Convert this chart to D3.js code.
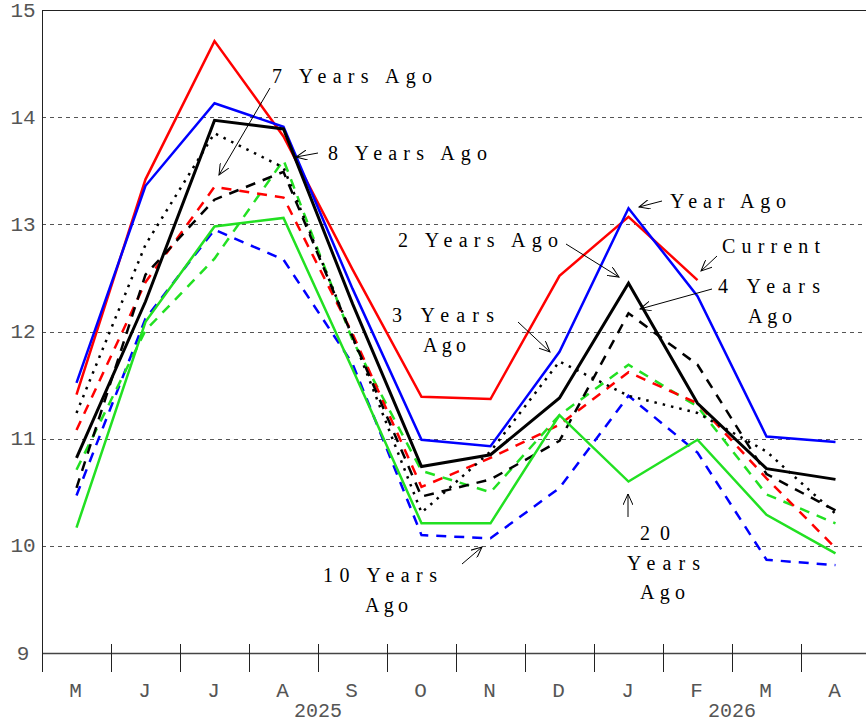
<!DOCTYPE html>
<html>
  <head>
    <script src="https://d3js.org/d3.v7.min.js"></script>
    <style>
      html, body { margin: 0; padding: 0; background: #fff; }
      #chart svg { display: block; }
      .tick-label { font-family: 'Liberation Mono', 'DejaVu Sans Mono', monospace; fill: #555; }
      .note { font-family: 'Liberation Serif', 'Times New Roman', serif; font-size: 20px; fill: #000; }
    </style>
  </head>
  <body>
    <div id="chart"></div>
    <script>
      // months May 2025 .. Apr 2026
      var months = ["M", "J", "J", "A", "S", "O", "N", "D", "J", "F", "M", "A"];
      var yTicks = [9, 10, 11, 12, 13, 14, 15];
      var gridValues = [10, 11, 12, 13, 14];
      var yearLabels = ["2025", "2026"];
      var yearSpans = [[0, 7], [8, 11]];

      var current       = [11.41, 13.42, 14.71, 13.82, 12.58, 11.39, 11.37, 12.52, 13.07, 12.48];
      var yearAgo       = [11.52, 13.36, 14.13, 13.91, 12.40, 10.99, 10.93, 11.81, 13.15, 12.33, 11.02, 10.97];
      var twoYearsAgo   = [10.82, 12.28, 13.97, 13.89, 12.26, 10.74, 10.85, 11.38, 12.45, 11.33, 10.72, 10.62];
      var threeYearsAgo = [11.24, 12.81, 13.85, 13.53, 11.95, 10.31, 10.88, 11.72, 11.40, 11.24, 10.88, 10.30];
      var fourYearsAgo  = [10.54, 12.53, 13.23, 13.49, 11.95, 10.46, 10.62, 10.98, 12.17, 11.69, 10.67, 10.33];
      var sevenYearsAgo = [11.08, 12.46, 13.35, 13.25, 11.98, 10.55, 10.82, 11.13, 11.62, 11.33, 10.63, 9.98];
      var eightYearsAgo = [10.71, 12.01, 12.68, 13.60, 11.92, 10.70, 10.50, 11.22, 11.69, 11.30, 10.48, 10.21];
      var tenYearsAgo   = [10.47, 12.12, 12.95, 12.67, 11.70, 10.10, 10.07, 10.54, 11.40, 10.87, 9.87, 9.82];
      var twentyYearsAgo = [10.17, 12.09, 12.98, 13.06, 11.65, 10.21, 10.21, 11.22, 10.60, 10.99, 10.29, 9.93];

      // drawing order: bottom first
      var series = [
        { values: tenYearsAgo,    color: "#0000ff", dash: "10,8", width: 2.5 },
        { values: eightYearsAgo,  color: "#22e022", dash: "10,8", width: 2.5 },
        { values: sevenYearsAgo,  color: "#ff0000", dash: "10,8", width: 2.5 },
        { values: fourYearsAgo,   color: "#000000", dash: "10,8", width: 2.5 },
        { values: threeYearsAgo,  color: "#000000", dash: "2.5,6", width: 2.5 },
        { values: twentyYearsAgo, color: "#22e022", dash: null,   width: 2.5 },
        { values: current,        color: "#ff0000", dash: null,   width: 2.5 },
        { values: yearAgo,        color: "#0000ff", dash: null,   width: 2.5 },
        { values: twoYearsAgo,    color: "#000000", dash: null,   width: 3 }
      ];

      // annotation text + arrows (pixel layout)
      var notes = [
        { lines: ["7 Years Ago"], x: 272, y: 76, w: [160], arrow: [270, 88, 219, 175] },
        { lines: ["8 Years Ago"], x: 328, y: 153, w: [159], arrow: [318, 153, 296, 157] },
        { lines: ["Year Ago"], x: 670, y: 201, w: [116], arrow: [662, 201, 639, 207] },
        { lines: ["Current"], x: 722, y: 246, w: [98], arrow: [717, 256, 701, 271] },
        { lines: ["2 Years Ago"], x: 398, y: 240, w: [160], arrow: [566, 244, 619, 277] },
        { lines: ["4 Years", "Ago"], x: [718, 748], y: 286, w: [102, 44], arrow: [712, 289, 640, 309] },
        { lines: ["3 Years", "Ago"], x: [392, 423], y: 315, w: [102, 43], arrow: [518, 322, 550, 352] },
        { lines: ["10 Years", "Ago"], x: [323, 365], y: 575, w: [114, 43], arrow: [462, 564, 482, 547] },
        { lines: ["20", "Years", "Ago"], x: [640, 627, 640], y: 533, w: [30, 73, 45], arrow: [628, 517, 628, 494] }
      ];

      var width = 866, height = 723;
      var plotLeft = 42, plotRight = 870, plotTop = 10, plotBottom = 653;

      var svg = d3.select("#chart").append("svg")
        .attr("width", width)
        .attr("height", height);

      var x = d3.scaleBand().domain(d3.range(12)).range([plotLeft, plotRight]);
      var cx = function (i) { return x(i) + x.bandwidth() / 2; };
      var y = d3.scaleLinear().domain([9, 15]).range([plotBottom, plotTop]);

      // grid
      svg.append("g").selectAll("line").data(gridValues).join("line")
        .attr("x1", plotLeft).attr("x2", width)
        .attr("y1", function (d) { return Math.round(y(d)) + 0.5; })
        .attr("y2", function (d) { return Math.round(y(d)) + 0.5; })
        .attr("stroke", "#555").attr("stroke-width", 1)
        .attr("stroke-dasharray", "4,4");

      // frame
      svg.append("line").attr("x1", plotLeft).attr("x2", width)
        .attr("y1", plotTop + 0.5).attr("y2", plotTop + 0.5).attr("stroke", "#222");
      svg.append("line").attr("x1", plotLeft).attr("x2", width)
        .attr("y1", plotBottom + 0.5).attr("y2", plotBottom + 0.5).attr("stroke", "#444").attr("stroke-width", 1.5);
      svg.append("line").attr("x1", plotLeft + 0.5).attr("x2", plotLeft + 0.5)
        .attr("y1", plotTop).attr("y2", 672).attr("stroke", "#222");

      // month ticks
      svg.append("g").selectAll("line").data(d3.range(1, 12)).join("line")
        .attr("x1", function (d) { return Math.round(x(d)) + 0.5; })
        .attr("x2", function (d) { return Math.round(x(d)) + 0.5; })
        .attr("y1", 644).attr("y2", 672)
        .attr("stroke", "#222");

      // y tick labels
      svg.append("g").selectAll("text").data(yTicks).join("text")
        .attr("class", "tick-label")
        .attr("x", 23)
        .attr("y", function (d) { return y(d) + 1; })
        .attr("text-anchor", "middle")
        .attr("dominant-baseline", "central")
        .attr("font-size", 21)
        .text(function (d) { return d; });

      // month labels
      svg.append("g").selectAll("text").data(months).join("text")
        .attr("class", "tick-label")
        .attr("x", function (d, i) { return cx(i) - 1; })
        .attr("y", 691)
        .attr("text-anchor", "middle")
        .attr("dominant-baseline", "central")
        .attr("font-size", 21)
        .text(function (d) { return d; });

      // year labels
      svg.append("g").selectAll("text").data(yearLabels).join("text")
        .attr("class", "tick-label")
        .attr("x", function (d, i) { return (cx(yearSpans[i][0]) + cx(yearSpans[i][1])) / 2; })
        .attr("y", 711)
        .attr("text-anchor", "middle")
        .attr("dominant-baseline", "central")
        .attr("font-size", 20)
        .text(function (d) { return d; });

      // series lines
      var line = d3.line()
        .x(function (d, i) { return cx(i); })
        .y(function (d) { return y(d); });

      svg.append("g").selectAll("path").data(series).join("path")
        .attr("d", function (s) { return line(s.values); })
        .attr("fill", "none")
        .attr("stroke", function (s) { return s.color; })
        .attr("stroke-width", function (s) { return s.width; })
        .attr("stroke-dasharray", function (s) { return s.dash; })
        .attr("stroke-linejoin", "miter");

      // arrow marker
      svg.append("defs").append("marker")
        .attr("id", "arrow")
        .attr("viewBox", "0 0 12 10")
        .attr("refX", 11).attr("refY", 5)
        .attr("markerWidth", 12).attr("markerHeight", 10)
        .attr("markerUnits", "userSpaceOnUse")
        .attr("orient", "auto")
        .append("path")
        .attr("d", "M0,0 L11,5 L0,10")
        .attr("fill", "none")
        .attr("stroke", "#000")
        .attr("stroke-width", 1);

      // annotations
      var ng = svg.append("g");
      notes.forEach(function (n) {
        n.lines.forEach(function (t, k) {
          var tx = Array.isArray(n.x) ? n.x[k] : n.x;
          ng.append("text")
            .attr("class", "note")
            .attr("x", tx)
            .attr("y", n.y + k * 29.5)
            .attr("dominant-baseline", "central")
            .attr("textLength", n.w[k])
            .attr("lengthAdjust", "spacing")
            .text(t);
        });
        ng.append("line")
          .attr("x1", n.arrow[0]).attr("y1", n.arrow[1])
          .attr("x2", n.arrow[2]).attr("y2", n.arrow[3])
          .attr("stroke", "#000").attr("stroke-width", 1)
          .attr("marker-end", "url(#arrow)");
      });
    </script>
  </body>
</html>
